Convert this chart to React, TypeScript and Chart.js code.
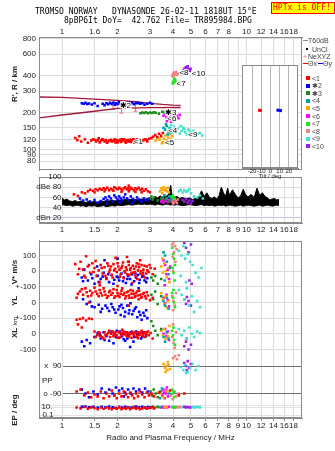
import React, { useEffect, useRef } from 'react';
import { Chart, registerables } from 'chart.js';

Chart.register(...registerables);
Chart.defaults.font.family = '"Liberation Sans", Arial, sans-serif';
Chart.defaults.font.size = 8;
Chart.defaults.color = '#222';

type P = [number, number];

// ---------- axes ----------
const FREQ_TICKS = [1, 1.5, 2, 3, 4, 5, 6, 7, 8, 9, 10, 12, 14, 16, 18];
const TOP_LABELS = ['1', '1.6', '2', '3', '4', '5', '6', '7', '8', '', '10', '12', '14', '16', '18'];
const BOTTOM_LABELS = ['1', '1.5', '2', '3', '4', '5', '6', '7', '8', '9', '10', '12', '14', '16', '18'];
const F_MIN = 0.75;
const F_MAX = 20;
const RANGE_TICKS = [80, 90, 100, 120, 150, 200, 300, 400, 600, 800];
const DB_TICKS = [20, 40, 60, 80, 100];
const DB_LABELS: [string, number][] = [['100', 100], ['dBe 80', 80], ['60', 60], ['40', 40], ['dBn 20', 20]];
const LOWER_TICKS = [100, 0, -100, -200, -300, -400, -500];
const LOWER_LABELS = ['100', '0', '+-100', '0', '+-100', '0', '-100'];
const TILT_TICKS = [-20, -10, 0, 10, 20];

// ---------- colours ----------
const C1 = '#ff0000';
const C2 = '#0000ff';
const C3 = '#1f8a1f';
const C4 = '#00a3a3';
const C5 = '#ffa500';
const C6 = '#ff00ff';
const C7 = '#22e622';
const C8 = '#f08080';
const C9 = '#3fe0d0';
const C10 = '#9b1fe8';
const MAROON = '#a3173a';
const PINK = '#ee6a8a';
const GRID = '#dcdcdc';
const FRAME = '#8a8a8a';
const TEXT = '#222';

// ---------- range panel (f MHz, R km) ----------
const rangeRed: P[] = [[1.18,124],[1.21,119],[1.24,128],[1.27,116],[1.33,121],[1.38,113],[1.44,118],[1.47,121],[1.50,120],[1.53,116],[1.56,119],[1.58,123],[1.60,114],[1.63,118],[1.65,121],[1.67,120],[1.70,116],[1.73,119],[1.75,113],[1.77,115],[1.80,118],[1.84,120],[1.85,117],[1.87,116],[1.91,118],[1.93,121],[1.95,114],[1.98,119],[2.00,114],[2.02,117],[2.06,120],[2.09,115],[2.11,121],[2.13,118],[2.17,121],[2.20,116],[2.22,113],[2.24,119],[2.28,117],[2.30,116],[2.32,120],[2.36,115],[2.38,120],[2.40,118],[2.44,121],[2.46,114],[2.48,116],[2.53,119],[2.56,121],[2.58,117],[2.64,120],[2.66,116],[2.70,111],[2.74,120],[2.76,118],[2.83,121],[2.88,119],[2.90,116],[2.97,122],[3.05,124],[3.12,127],[3.20,131],[3.28,126],[3.36,134],[3.44,129],[3.52,136]];
const rangeBlue: P[] = [[1.28,238],[1.31,236],[1.34,240],[1.37,235],[1.40,237],[1.45,233],[1.50,238],[1.56,226],[1.66,236],[1.70,230],[1.74,238],[1.78,234],[1.82,240],[1.86,236],[1.90,242],[1.93,232],[1.96,238],[2.00,234],[2.03,244],[2.07,236],[2.11,230],[2.30,240],[2.35,236],[2.40,242],[2.45,234],[2.52,238],[2.58,240],[2.65,236],[2.72,238],[2.80,232],[2.90,236],[3.00,240],[3.08,236]];
const rangeGreen3: P[] = [[2.66,197],[2.72,200],[2.78,198],[2.85,201],[2.92,197],[3.00,200],[3.08,198],[3.15,201],[3.22,199],[3.35,196],[3.50,203],[3.58,200],[3.66,205],[3.74,201],[3.82,198],[3.90,202]];
const rangeTeal4: P[] = [[3.55,150],[3.62,145],[3.70,155],[3.78,140],[3.85,148],[3.92,136],[4.00,142],[4.08,138],[3.66,160],[3.74,132]];
const rangeOrange5: P[] = [[3.22,118],[3.30,124],[3.38,120],[3.45,126],[3.52,115],[3.58,122],[3.64,130],[3.70,118],[3.76,125],[3.82,133],[3.88,121],[3.95,128],[3.48,112],[3.60,113]];
const rangeMag6: P[] = [[3.55,188],[3.62,195],[3.68,182],[3.74,200],[3.80,176],[3.86,190],[3.92,205],[3.98,185],[4.05,195],[4.12,175],[4.20,188],[4.28,180],[4.35,192],[3.70,170],[3.90,168]];
const rangeGreen7: P[] = [[3.98,350],[4.02,358],[4.06,366],[4.10,374],[4.00,345],[4.05,380],[4.12,362],[4.08,352]];
const rangeSalmon8: P[] = [[3.96,400],[4.00,415],[4.05,425],[4.10,410],[4.15,430],[4.20,405],[4.25,418],[4.02,395]];
const rangeCyan9: P[] = [[3.82,150],[3.90,158],[3.98,145],[4.05,152],[4.15,140],[4.25,148],[4.35,135],[4.45,142],[4.55,150],[4.65,138],[4.75,132],[4.85,145],[4.95,140],[5.05,136],[5.15,142],[5.30,138],[5.45,134],[5.60,136],[5.75,130],[4.40,155],[4.60,146]];
const rangePurple10: P[] = [[4.55,445],[4.62,460],[4.70,472],[4.78,466],[4.86,452],[4.92,440],[4.60,430],[4.80,478],[4.98,456]];
const oModelTrace: P[] = [[0.75,268],[1.0,266],[1.5,258],[2.0,252],[2.5,245],[3.0,238],[3.5,233],[4.0,230],[4.4,229]];
const xModelTrace: P[] = [[0.75,181],[1.0,191],[1.5,205],[2.0,216],[3.0,219],[4.4,220]];
const neBars: [number, number, number][] = [[1.89,212,228],[2.10,198,237],[2.50,205,245]];
const TRACE_LABELS: [string, number, number][] = [['<1',2.45,116],['\u27312',2.05,228],['\u27313',3.62,200],['<6',3.72,178],['<4',3.76,143],['<5',3.62,113],['<9',4.84,131],['<8',4.33,420],['<7',4.18,342],['<10',5.05,418]];

// ---------- tilt inset (deg, R km) ----------
const tiltO: P[] = [[-13.5,224],[-9.5,221]];
const tiltX: P[] = [[6.5,224],[12.5,221]];

// ---------- amplitude panel (f MHz, dB) ----------
const noise: [number, number, number][] = [[1.00,46,59],[1.03,45,55],[1.06,44,57],[1.10,45,53],[1.14,43,52],[1.18,44,54],[1.22,45,51],[1.26,43,53],[1.30,44,52],[1.35,42,50],[1.40,44,53],[1.45,43,51],[1.50,44,52],[1.56,42,50],[1.62,43,53],[1.68,44,52],[1.74,42,54],[1.80,43,53],[1.87,44,55],[1.94,43,53],[2.00,45,55],[2.10,44,54],[2.20,45,56],[2.30,46,55],[2.40,45,57],[2.50,46,56],[2.60,47,55],[2.70,46,57],[2.80,47,56],[2.90,46,58],[3.00,47,60],[3.10,46,57],[3.20,45,62],[3.30,47,59],[3.40,46,63],[3.50,45,61],[3.60,46,65],[3.70,47,62],[3.80,46,68],[3.88,45,84],[3.95,46,64],[4.05,45,60],[4.20,46,62],[4.35,45,58],[4.50,44,60],[4.70,45,57],[4.90,46,59],[5.10,45,56],[5.30,44,58],[5.50,45,60],[5.70,46,73],[5.90,44,62],[6.10,45,69],[6.30,44,60],[6.50,45,58],[6.70,43,61],[6.90,44,57],[7.10,45,63],[7.30,44,80],[7.50,45,69],[7.70,43,62],[7.90,44,78],[8.10,45,64],[8.40,44,75],[8.70,43,66],[9.00,44,59],[9.30,45,63],[9.60,43,76],[9.90,44,65],[10.2,45,61],[10.6,44,66],[11.0,43,60],[11.4,44,78],[11.8,45,64],[12.2,43,69],[12.6,44,62],[13.0,45,59],[13.4,44,55],[13.8,43,57],[14.2,44,58],[14.6,45,55],[15.0,44,56]];
const dbRed: P[] = [[1.16,66],[1.22,63],[1.28,70],[1.33,68],[1.38,72],[1.42,75],[1.47,73],[1.52,76],[1.56,74],[1.60,77],[1.64,75],[1.68,78],[1.72,76],[1.76,79],[1.80,74],[1.84,77],[1.88,75],[1.92,80],[1.96,78],[2.00,76],[2.04,79],[2.08,77],[2.12,74],[2.16,78],[2.20,80],[2.24,76],[2.28,78],[2.32,75],[2.36,79],[2.40,77],[2.45,74],[2.50,78],[2.55,76],[2.60,79],[2.66,75],[2.72,77],[2.78,73],[2.85,76],[2.92,72],[3.00,70],[1.50,70],[1.70,72],[1.90,73],[2.10,71],[2.30,72],[2.50,71],[2.70,70],[2.30,83]];
const dbBlue: P[] = [[1.25,58],[1.30,54],[1.36,56],[1.42,52],[1.50,55],[1.56,50],[1.62,53],[1.68,57],[1.72,60],[1.76,55],[1.80,62],[1.84,58],[1.88,52],[1.92,64],[1.96,60],[2.00,56],[2.04,62],[2.08,58],[2.12,54],[2.16,60],[2.20,66],[2.25,58],[2.30,55],[2.36,62],[2.42,57],[2.48,53],[2.55,60],[2.62,56],[2.70,52],[2.78,58],[2.85,54],[2.95,56],[1.75,48],[2.05,50],[2.40,49]];
const dbGreen3: P[] = [[3.00,58],[3.05,62],[3.10,56],[3.15,60],[3.30,54],[3.45,58],[3.60,55],[3.80,52]];
const dbTeal4: P[] = [[3.50,60],[3.60,64],[3.70,58],[3.80,62],[3.90,56]];
const dbOrange5: P[] = [[3.40,72],[3.45,78],[3.50,75],[3.55,80],[3.60,74],[3.65,77],[3.70,72],[3.75,79],[3.80,70],[3.50,68]];
const dbMag6: P[] = [[3.45,52],[3.50,55],[3.55,50],[3.60,56],[3.65,53],[3.70,58],[3.75,51],[3.80,55],[3.90,54]];
const dbGreen7: P[] = [[3.90,62],[3.95,60],[4.00,64],[4.05,58]];
const dbSalmon8: P[] = [[3.95,52],[4.00,55],[4.05,50],[4.10,57],[4.15,53],[4.20,49],[4.25,56],[4.00,48]];
const dbCyan9: P[] = [[4.30,72],[4.40,75],[4.50,70],[4.60,74],[4.70,71],[4.80,73],[5.00,68],[5.20,62],[5.40,60],[5.60,64],[5.80,58],[4.90,76]];
const dbPurple10: P[] = [[4.50,55],[4.60,52],[4.70,57],[4.80,50],[4.90,54],[5.00,48],[5.10,53]];

// ---------- V* (m/s) ----------
const vRed: P[] = [[1.18,45],[1.22,-20],[1.26,60],[1.30,10],[1.34,-40],[1.38,30],[1.42,-10],[1.46,50],[1.50,20],[1.54,-30],[1.58,5],[1.62,40],[1.66,-15],[1.70,25],[1.74,-50],[1.78,35],[1.82,10],[1.86,-25],[1.90,45],[1.94,15],[1.98,-5],[2.02,30],[2.06,-35],[2.10,20],[2.14,55],[2.18,0],[2.22,25],[2.26,-20],[2.30,40],[2.34,10],[2.38,-10],[2.42,35],[2.46,15],[2.50,-30],[2.54,50],[2.58,5],[2.62,25],[2.66,-15],[2.70,40],[2.76,10],[2.82,-40],[2.88,30],[2.95,-5],[3.02,20],[3.10,-20],[3.18,15],[1.95,85],[2.25,90],[1.60,-70],[2.40,-75],[1.35,95],[2.65,70],[1.80,-5],[2.05,10],[2.20,-8],[2.48,-5],[2.75,-10],[2.90,5],[1.24,15],[1.32,-30],[1.40,40],[1.48,-5],[1.52,65],[1.64,20],[1.72,-30],[1.76,50],[1.84,30],[1.88,-40],[1.92,5],[2.00,50],[2.08,-20],[2.12,35],[2.16,-45],[2.24,10],[2.28,60],[2.32,-25],[2.36,20],[2.44,-10],[2.52,30],[2.56,-50],[2.60,45],[2.68,0],[2.72,-25],[2.80,35],[2.86,-15],[2.98,40]];
const vBlue: P[] = [[1.28,-40],[1.32,10],[1.38,-60],[1.44,-20],[1.50,-80],[1.56,-30],[1.62,-50],[1.68,-10],[1.74,-45],[1.80,-70],[1.86,-25],[1.92,-55],[1.98,-35],[2.04,-60],[2.10,-15],[2.16,-40],[2.22,-75],[2.28,-30],[2.34,-50],[2.40,-20],[2.46,-65],[2.52,-40],[2.58,-25],[2.64,-55],[2.72,-35],[2.80,-60],[2.90,-45],[1.70,70],[2.00,80],[2.30,60],[1.55,30],[2.60,-110],[1.30,-65],[1.46,-45],[1.58,-70],[1.66,-35],[1.78,-20],[1.90,-80],[2.02,-40],[2.14,-65],[2.26,-50],[2.38,-85],[2.50,-15],[2.62,-75],[2.76,-30],[2.86,-70]];
const vGreen3: P[] = [[3.05,-40],[3.12,-60],[3.20,-30],[3.30,-80],[3.45,-50]];
const vTeal4: P[] = [[3.55,120],[3.62,100],[3.70,60],[3.78,-20],[3.85,20],[3.60,-60]];
const vOrange5: P[] = [[3.45,30],[3.52,-10],[3.58,50],[3.64,0],[3.70,-40],[3.76,20],[3.82,-70],[3.50,80]];
const vMag6: P[] = [[3.55,70],[3.62,40],[3.68,-20],[3.74,10],[3.80,-50],[3.86,30],[3.60,-90]];
const vGreen7: P[] = [[3.95,150],[4.00,110],[4.05,80],[4.10,40],[4.02,-10],[4.08,-60],[3.98,20]];
const vSalmon8: P[] = [[3.95,170],[4.02,185],[4.10,160],[4.18,140],[4.05,120],[3.98,90],[4.12,60],[4.00,0]];
const vCyan9: P[] = [[4.30,130],[4.45,100],[4.55,160],[4.65,80],[4.80,110],[4.95,60],[5.10,40],[5.30,-10],[5.50,-40],[5.70,20],[4.40,-30],[4.70,-70]];
const vPurple10: P[] = [[4.60,180],[4.70,150],[4.85,120],[5.00,170],[4.90,-60],[5.05,-80]];

// ---------- YL (km) ----------
const ylRed: P[] = [[1.20,30],[1.25,70],[1.30,50],[1.34,90],[1.38,40],[1.42,75],[1.46,60],[1.50,95],[1.55,55],[1.60,80],[1.65,45],[1.70,70],[1.75,30],[1.80,65],[1.85,50],[1.90,85],[1.95,40],[2.00,60],[2.05,35],[2.10,75],[2.15,50],[2.20,25],[2.25,65],[2.30,45],[2.35,80],[2.40,30],[2.45,55],[2.50,40],[2.55,70],[2.60,20],[2.65,50],[2.70,35],[2.78,60],[2.85,25],[2.92,45],[3.00,15],[3.10,30],[1.60,110],[2.00,105],[1.40,0],[2.30,-20],[1.22,55],[1.28,85],[1.36,65],[1.44,45],[1.52,70],[1.58,40],[1.62,60],[1.68,90],[1.72,50],[1.78,40],[1.82,75],[1.88,60],[1.92,30],[1.98,80],[2.02,45],[2.08,55],[2.12,90],[2.18,60],[2.22,40],[2.28,70],[2.32,30],[2.38,55],[2.42,75],[2.48,35],[2.52,60],[2.58,45],[2.62,75],[2.68,30],[2.74,55],[2.82,40],[2.88,65]];
const ylBlue: P[] = [[1.30,20],[1.36,-10],[1.42,5],[1.50,-30],[1.58,-15],[1.65,-40],[1.72,-20],[1.80,-55],[1.88,-30],[1.95,-65],[2.02,-45],[2.08,-80],[2.14,-35],[2.20,-60],[2.26,-20],[2.32,-50],[2.40,-75],[2.48,-40],[2.56,-95],[2.62,-60],[2.70,-110],[2.80,-85],[2.90,-100],[1.85,-10],[2.10,-15],[2.35,-5],[1.45,-25],[1.62,-60],[1.76,-35],[1.92,-45],[2.05,-25],[2.18,-90],[2.30,-70],[2.44,-55],[2.52,-30],[2.66,-80],[2.76,-65],[2.86,-50]];
const ylGreen3: P[] = [[3.05,50],[3.12,20],[3.20,70],[3.30,-10],[3.45,40]];
const ylTeal4: P[] = [[3.55,10],[3.62,-20],[3.70,30],[3.78,-40]];
const ylOrange5: P[] = [[3.45,60],[3.52,20],[3.58,-10],[3.64,40],[3.70,-30],[3.76,10]];
const ylMag6: P[] = [[3.55,30],[3.62,-5],[3.68,50],[3.74,15],[3.80,-25]];
const ylGreen7: P[] = [[3.95,60],[4.00,30],[4.05,0],[4.10,-30],[4.02,80]];
const ylSalmon8: P[] = [[3.95,40],[4.02,10],[4.08,-20],[4.15,60],[4.00,-50]];
const ylCyan9: P[] = [[4.30,80],[4.45,50],[4.60,20],[4.75,90],[4.90,-20],[5.05,40],[5.20,-60],[5.40,10],[5.60,-30]];
const ylPurple10: P[] = [[4.60,20],[4.70,-10],[4.85,10],[5.00,-20],[4.75,35]];

// ---------- XL (km) ----------
const xlRed: P[] = [[1.20,90],[1.25,95],[1.30,100],[1.35,85],[1.40,98],[1.45,95],[1.22,60],[1.28,40],[1.50,15],[1.55,-10],[1.60,5],[1.65,-20],[1.70,10],[1.75,-5],[1.80,20],[1.85,0],[1.90,-15],[1.95,10],[2.00,-25],[2.05,5],[2.10,-10],[2.15,15],[2.20,-5],[2.25,10],[2.30,-20],[2.35,0],[2.40,15],[2.45,-10],[2.50,5],[2.55,-15],[2.60,10],[2.65,-5],[2.70,20],[2.76,0],[2.82,-20],[2.88,10],[2.95,-10],[3.02,5],[3.10,-30],[1.68,-30],[2.12,25],[2.58,-28],[1.52,-20],[1.58,10],[1.62,-15],[1.72,-10],[1.78,5],[1.82,-20],[1.88,15],[1.92,0],[1.98,-10],[2.02,15],[2.08,-20],[2.14,0],[2.18,10],[2.24,-15],[2.28,5],[2.32,-5],[2.38,-25],[2.42,0],[2.48,10],[2.52,-20],[2.62,-10],[2.68,5],[2.74,-15],[2.80,10],[2.86,-5],[2.92,15]];
const xlBlue: P[] = [[1.28,-50],[1.32,-80],[1.36,-40],[1.42,-60],[1.50,-20],[1.56,5],[1.62,-30],[1.68,10],[1.74,-15],[1.80,-45],[1.86,15],[1.92,-5],[1.98,20],[2.04,-25],[2.10,0],[2.16,-35],[2.22,10],[2.28,-10],[2.34,-85],[2.40,5],[2.46,-20],[2.52,15],[2.60,-5],[2.68,-30],[2.76,10],[2.85,-15],[1.90,-60],[2.20,-45],[1.60,-10],[1.70,-40],[1.84,5],[1.96,-20],[2.06,15],[2.12,-15],[2.26,-30],[2.36,10],[2.44,-50],[2.56,0],[2.72,-20]];
const xlGreen3: P[] = [[3.05,80],[3.12,50],[3.20,20],[3.30,-10],[3.45,30]];
const xlTeal4: P[] = [[3.55,-20],[3.62,-50],[3.70,10],[3.78,-30]];
const xlOrange5: P[] = [[3.45,20],[3.52,-10],[3.58,30],[3.64,-30],[3.70,10],[3.76,-15],[3.82,50]];
const xlMag6: P[] = [[3.55,0],[3.62,30],[3.68,-15],[3.74,15],[3.80,-40]];
const xlGreen7: P[] = [[3.95,20],[4.00,-10],[4.05,-40],[4.10,-70],[4.02,40]];
const xlSalmon8: P[] = [[3.95,-20],[4.02,-60],[4.08,-90],[4.15,10],[4.00,60]];
const xlCyan9: P[] = [[4.30,30],[4.45,-10],[4.60,20],[4.75,-30],[4.90,40],[5.05,0],[5.20,-20],[5.40,15],[5.60,5]];
const xlPurple10: P[] = [[4.60,-80],[4.70,-50],[4.85,-100],[5.00,-70],[4.75,-30]];

// ---------- polarisation angle (deg: near +90 = x, near -90 = o) ----------
const ppRed: P[] = [[1.20,-88],[1.26,-86],[1.32,-92],[1.38,-89],[1.44,-94],[1.50,-91],[1.56,-93],[1.62,-88],[1.68,-95],[1.74,-90],[1.80,-93],[1.86,-87],[1.92,-92],[1.98,-95],[2.04,-90],[2.10,-93],[2.16,-88],[2.22,-91],[2.28,-94],[2.34,-89],[2.40,-92],[2.46,-95],[2.52,-90],[2.58,-93],[2.64,-88],[2.72,-91],[2.80,-94],[2.88,-89],[2.96,-92],[3.05,-90],[3.15,-93],[3.35,-89],[3.85,-87],[4.30,-92],[4.60,-90]];
const ppBlue: P[] = [[1.28,-86],[1.34,-90],[1.40,-94],[1.48,-88],[1.56,-91],[1.64,-85],[1.72,-89],[1.80,-86],[1.88,-90],[1.96,-84],[2.04,-87],[2.12,-85],[2.20,-89],[2.28,-86],[2.36,-90],[2.44,-85],[2.52,-88],[2.62,-86],[2.72,-89],[2.82,-85],[2.92,-88],[1.92,-92],[2.16,-93]];
const ppGreen3: P[] = [[3.02,-88],[3.08,-92],[3.14,-86],[3.22,-90],[3.30,-94],[3.40,-88]];
const ppTeal4: P[] = [[3.40,-95],[3.48,-85],[3.80,-90]];
const ppOrange5: P[] = [[3.42,-90],[3.55,-94],[3.72,-88],[3.55,92],[3.62,88],[3.68,90],[3.72,86],[3.78,91],[3.85,87],[3.65,84],[3.75,94]];
const ppMag6: P[] = [[3.45,-88],[3.50,-92],[3.55,-86],[3.60,-95],[3.65,-90],[3.70,-84],[3.75,-93],[3.58,-89],[3.68,-87]];
const ppGreen7: P[] = [[3.95,-86],[4.00,-90],[4.05,-94],[4.02,-88]];
const ppSalmon8: P[] = [[3.90,-92],[3.98,-96],[4.08,-88],[4.15,-93],[4.25,-90],[4.00,98],[4.10,100],[4.20,97],[4.30,101]];
const ppCyan9: P[] = [[4.40,89],[4.55,86],[4.65,91],[4.80,84],[4.95,88],[5.10,92],[5.30,86],[5.50,90],[4.70,83]];
const ppPurple10: P[] = [[4.60,93],[4.70,90],[4.80,95],[4.90,88],[5.00,92],[4.75,86]];

// ---------- EP (deg, log) ----------
const epRed: P[] = [[1.20,8],[1.26,5],[1.32,12],[1.38,4],[1.44,9],[1.50,6],[1.56,3],[1.62,8],[1.68,4],[1.74,10],[1.80,5],[1.86,3],[1.92,7],[1.98,4],[2.04,9],[2.10,3],[2.16,6],[2.22,4],[2.28,8],[2.34,3],[2.40,6],[2.46,9],[2.52,4],[2.58,7],[2.64,3],[2.72,5],[2.80,8],[2.88,4],[2.96,6],[3.05,9],[3.15,5]];
const epBlue: P[] = [[1.28,12],[1.34,15],[1.40,10],[1.48,13],[1.56,8],[1.64,12],[1.72,9],[1.80,14],[1.88,10],[1.96,6],[2.04,12],[2.12,8],[2.20,13],[2.28,10],[2.36,7],[2.44,11],[2.52,14],[2.62,9],[2.72,12],[2.82,8],[2.92,11],[3.00,9]];
const epGreen3: P[] = [[3.02,10],[3.10,14],[3.20,8],[3.30,12]];
const epTeal4: P[] = [[3.40,10]];
const epOrange5: P[] = [[3.60,10],[3.70,8]];
const epMag6: P[] = [[3.45,9],[3.52,12],[3.58,7],[3.65,11],[3.72,8],[3.80,13]];
const epGreen7: P[] = [[4.00,12],[4.10,9]];
const epSalmon8: P[] = [[3.95,10],[4.05,7],[4.15,12],[4.25,9],[4.35,11]];
const epCyan9: P[] = [[5.10,11],[5.20,8],[5.30,10],[5.45,12],[5.60,9],[4.45,10]];
const epPurple10: P[] = [[4.60,12],[4.70,9],[4.80,11],[4.90,8],[5.00,10]];

const CLASS_LEGEND: [string, string][] = [['<1', C1], ['\u27312', C2], ['\u27313', C3], ['<4', C4], ['<5', C5], ['<6', C6], ['<7', C7], ['<8', C8], ['<9', C9], ['<10', C10]];

// ---------- lower panel layout (virtual units) ----------
const YL0 = -200;
const XL0 = -400;
const XA0 = -606;
const OA0 = -781;
const EP10 = -869;
const LOWER_MIN = -938;
const LOWER_MAX = 194;
const vMap = (v: number) => v;
const ylMap = (v: number) => YL0 + v;
const xlMap = (v: number) => XL0 + v;
const angMap = (a: number) => (a > 0 ? XA0 + (a - 90) * 6.25 : OA0 + (a + 90) * 6.25);
const epMap = (e: number) => EP10 + (Math.log10(e) - 1) * 25;

const COLORS = [C1, C2, C3, C4, C5, C6, C7, C8, C9, C10];
const RANGE_SETS = [rangeRed, rangeBlue, rangeGreen3, rangeTeal4, rangeOrange5, rangeMag6, rangeGreen7, rangeSalmon8, rangeCyan9, rangePurple10];
const DB_SETS = [dbRed, dbBlue, dbGreen3, dbTeal4, dbOrange5, dbMag6, dbGreen7, dbSalmon8, dbCyan9, dbPurple10];
const V_SETS = [vRed, vBlue, vGreen3, vTeal4, vOrange5, vMag6, vGreen7, vSalmon8, vCyan9, vPurple10];
const YL_SETS = [ylRed, ylBlue, ylGreen3, ylTeal4, ylOrange5, ylMag6, ylGreen7, ylSalmon8, ylCyan9, ylPurple10];
const XL_SETS = [xlRed, xlBlue, xlGreen3, xlTeal4, xlOrange5, xlMag6, xlGreen7, xlSalmon8, xlCyan9, xlPurple10];
const PP_SETS = [ppRed, ppBlue, ppGreen3, ppTeal4, ppOrange5, ppMag6, ppGreen7, ppSalmon8, ppCyan9, ppPurple10];
const EP_SETS = [epRed, epBlue, epGreen3, epTeal4, epOrange5, epMag6, epGreen7, epSalmon8, epCyan9, epPurple10];

function pointDs(color: string, data: P[], map?: (v: number) => number) {
  return {
    data: data.map(([x, y]) => ({ x, y: map ? map(y) : y })),
    showLine: false,
    pointStyle: 'rect',
    pointRadius: 1.8,
    pointBorderWidth: 0,
    pointBackgroundColor: color,
    borderColor: color,
    backgroundColor: color,
  };
}

function lineDs(color: string, data: P[], width: number, extra: any = {}) {
  return {
    data: data.map(([x, y]) => ({ x, y })),
    showLine: true,
    borderColor: color,
    backgroundColor: color,
    borderWidth: width,
    pointRadius: 0,
    fill: false,
    tension: 0,
    ...extra,
  };
}

function freqAxis(position: string, labels: string[], height: number, padding: number, tickLength: number, title?: any) {
  return {
    type: 'logarithmic',
    position,
    min: F_MIN,
    max: F_MAX,
    afterBuildTicks: (s: any) => { s.ticks = FREQ_TICKS.map((value) => ({ value })); },
    afterFit: (s: any) => { s.height = height; },
    ticks: { autoSkip: false, maxRotation: 0, minRotation: 0, padding, color: TEXT, font: { size: 8 }, callback: (_v: any, i: number) => labels[i] },
    grid: { color: GRID, drawTicks: tickLength > 0, tickLength, tickColor: FRAME },
    border: { color: FRAME },
    title: title || { display: false },
  };
}

const framePlugin = {
  id: 'frame',
  afterDraw(chart: any) {
    const { ctx, chartArea: a } = chart;
    ctx.save();
    ctx.strokeStyle = FRAME;
    ctx.lineWidth = 1;
    ctx.strokeRect(Math.round(a.left) + 0.5, Math.round(a.top) + 0.5, Math.round(a.right - a.left) - 1, Math.round(a.bottom - a.top) - 1);
    ctx.restore();
  },
};

const baseOptions = (padding: any) => ({
  responsive: false,
  animation: false,
  events: [],
  layout: { padding },
  plugins: { legend: { display: false }, tooltip: { enabled: false } },
});

function makeRange() {
  const traceLabels = {
    id: 'traceLabels',
    afterDatasetsDraw(chart: any) {
      const { ctx, scales } = chart;
      ctx.save();
      ctx.font = '8px "Liberation Sans", Arial, sans-serif';
      ctx.textAlign = 'left';
      ctx.textBaseline = 'middle';
      ctx.lineWidth = 2;
      ctx.strokeStyle = '#fff';
      ctx.fillStyle = '#000';
      TRACE_LABELS.forEach(([t, f, r]) => {
        const x = scales.x.getPixelForValue(f);
        const y = scales.y.getPixelForValue(r);
        ctx.strokeText(t, x, y);
        ctx.fillText(t, x, y);
      });
      ctx.restore();
    },
  };
  return {
    type: 'line',
    data: {
      datasets: [
        ...RANGE_SETS.map((d, i) => pointDs(COLORS[i], d)),
        lineDs(MAROON, oModelTrace, 1.3),
        lineDs(MAROON, xModelTrace, 1.3),
        ...neBars.map(([f, lo, hi]) => lineDs(PINK, [[f, lo], [f, hi]], 1, { pointStyle: 'line', pointRadius: 2, pointBorderColor: PINK, pointBorderWidth: 1 })),
      ],
    },
    options: {
      ...baseOptions({ top: 0, right: 33, bottom: 1, left: 0 }),
      scales: {
        x: freqAxis('top', TOP_LABELS, 37, 0, 0),
        y: {
          type: 'logarithmic',
          min: 67.5,
          max: 830,
          afterBuildTicks: (s: any) => { s.ticks = RANGE_TICKS.map((value) => ({ value })); },
          afterFit: (s: any) => { s.width = 39; },
          ticks: { autoSkip: false, padding: 3, color: TEXT, font: { size: 8 }, callback: (_v: any, i: number) => String(RANGE_TICKS[i]) },
          grid: { color: GRID, drawTicks: false },
          border: { color: FRAME },
        },
      },
    },
    plugins: [framePlugin, traceLabels],
  };
}

function makeDb() {
  const dbLabels = {
    id: 'dbLabels',
    afterDraw(chart: any) {
      const { ctx, scales } = chart;
      const xr = scales.x.getPixelForValue(1) - 0.5;
      ctx.save();
      ctx.font = '8px "Liberation Sans", Arial, sans-serif';
      ctx.textAlign = 'right';
      ctx.textBaseline = 'middle';
      ctx.fillStyle = TEXT;
      DB_LABELS.forEach(([t, v]) => ctx.fillText(t, xr, scales.y.getPixelForValue(v)));
      ctx.restore();
    },
  };
  return {
    type: 'line',
    data: {
      datasets: [
        ...DB_SETS.map((d, i) => pointDs(COLORS[i], d)),
        lineDs('#000', noise.map(([f, lo]) => [f, lo] as P), 1),
        lineDs('#000', noise.map(([f, , hi]) => [f, hi] as P), 1, { fill: '-1', backgroundColor: '#000' }),
      ],
    },
    options: {
      ...baseOptions({ top: 5, right: 33, bottom: 0, left: 0 }),
      scales: {
        x: freqAxis('bottom', BOTTOM_LABELS, 13, 2, 0),
        y: {
          type: 'linear',
          min: 10,
          max: 100,
          afterBuildTicks: (s: any) => { s.ticks = DB_TICKS.map((value) => ({ value })); },
          afterFit: (s: any) => { s.width = 39; },
          ticks: { display: false },
          grid: { drawTicks: false, color: (c: any) => (c.tick && c.tick.value === 20 ? '#c4c4f0' : GRID) },
          border: { color: FRAME },
        },
      },
    },
    plugins: [framePlugin, dbLabels],
  };
}

function makeLower() {
  const lowerDecor = {
    id: 'lowerDecor',
    beforeDatasetsDraw(chart: any) {
      const { ctx, scales, chartArea: a } = chart;
      const y = scales.y;
      ctx.save();
      ctx.lineWidth = 1;
      ctx.strokeStyle = '#e2e2e2';
      [EP10 + 12, EP10, EP10 - 50].forEach((v) => {
        const py = Math.round(y.getPixelForValue(v)) + 0.5;
        ctx.beginPath(); ctx.moveTo(a.left, py); ctx.lineTo(a.right, py); ctx.stroke();
      });
      ctx.strokeStyle = '#6e6e6e';
      const x0 = scales.x.getPixelForValue(1) + 1;
      [XA0, OA0].forEach((v) => {
        const py = Math.round(y.getPixelForValue(v)) + 0.5;
        ctx.beginPath(); ctx.moveTo(x0, py); ctx.lineTo(a.right, py); ctx.stroke();
      });
      ctx.restore();
    },
    afterDraw(chart: any) {
      const { ctx, scales, chartArea: a } = chart;
      const y = scales.y;
      const xr = scales.x.getPixelForValue(1) - 0.5;
      ctx.save();
      ctx.font = '8px "Liberation Sans", Arial, sans-serif';
      ctx.textBaseline = 'middle';
      ctx.fillStyle = TEXT;
      ctx.textAlign = 'right';
      ctx.fillText('x  90', xr, y.getPixelForValue(XA0));
      ctx.fillText('o -90', xr, y.getPixelForValue(OA0));
      ctx.fillText('10.', xr - 9, y.getPixelForValue(EP10));
      ctx.fillText('0.1', xr - 8, y.getPixelForValue(EP10 - 50));
      ctx.textAlign = 'left';
      ctx.fillText('PP', a.left + 3, y.getPixelForValue(-700));
      ctx.restore();
    },
  };
  const datasets: any[] = [];
  COLORS.forEach((c, i) => {
    datasets.push(pointDs(c, V_SETS[i], vMap));
    datasets.push(pointDs(c, YL_SETS[i], ylMap));
    datasets.push(pointDs(c, XL_SETS[i], xlMap));
    datasets.push(pointDs(c, PP_SETS[i], angMap));
    datasets.push(pointDs(c, EP_SETS[i], epMap));
  });
  return {
    type: 'line',
    data: { datasets },
    options: {
      ...baseOptions({ top: 4, right: 33, bottom: 0, left: 0 }),
      scales: {
        x: freqAxis('bottom', BOTTOM_LABELS, 33, 0, 3, {
          display: true,
          text: 'Radio and Plasma Frequency / MHz',
          color: TEXT,
          font: { size: 8 },
          padding: { top: 0, bottom: 8 },
        }),
        y: {
          type: 'linear',
          min: LOWER_MIN,
          max: LOWER_MAX,
          afterBuildTicks: (s: any) => { s.ticks = LOWER_TICKS.map((value) => ({ value })); },
          afterFit: (s: any) => { s.width = 39; },
          ticks: { autoSkip: false, padding: 3, color: TEXT, font: { size: 8 }, callback: (_v: any, i: number) => LOWER_LABELS[i] },
          grid: { color: GRID, drawTicks: false },
          border: { color: FRAME },
        },
      },
    },
    plugins: [framePlugin, lowerDecor],
  };
}

function makeTilt() {
  const whiteBg = {
    id: 'whiteBg',
    beforeDraw(chart: any) {
      const { ctx, chartArea: a } = chart;
      ctx.save();
      ctx.fillStyle = '#fff';
      ctx.fillRect(a.left, a.top, a.right - a.left, a.bottom - a.top);
      ctx.restore();
    },
  };
  return {
    type: 'line',
    data: {
      datasets: [lineDs(C1, tiltO, 3), lineDs(C2, tiltX, 3)],
    },
    options: {
      ...baseOptions({ top: 5, right: 9, bottom: 0, left: 10 }),
      scales: {
        x: {
          type: 'linear',
          min: -31,
          max: 30,
          afterBuildTicks: (s: any) => { s.ticks = TILT_TICKS.map((value) => ({ value })); },
          afterFit: (s: any) => { s.height = 17; },
          ticks: { autoSkip: false, maxRotation: 0, padding: 0, color: TEXT, font: { size: 6 }, callback: (v: any) => String(v) },
          grid: { color: '#b4b4b4', drawTicks: false },
          border: { color: FRAME },
          title: { display: true, text: 'Tilt / deg', color: TEXT, font: { size: 6 }, padding: { top: 0, bottom: 5 } },
        },
        y: { type: 'logarithmic', min: 79, max: 503, display: false },
      },
    },
    plugins: [whiteBg, framePlugin],
  };
}

function ChartCanvas({ left, top, width, height, make }: { left: number; top: number; width: number; height: number; make: () => any }) {
  const ref = useRef<HTMLCanvasElement>(null);
  useEffect(() => {
    const chart = new Chart(ref.current as HTMLCanvasElement, make());
    return () => chart.destroy();
  }, []);
  return <canvas ref={ref} width={width} height={height} style={{ position: 'absolute', left, top, width, height }} />;
}

const sans = '"Liberation Sans", Arial, sans-serif';
const mono = '"DejaVu Sans Mono", "Liberation Mono", monospace';

function VLabel({ x, y, text, size = 8, bold = true }: { x: number; y: number; text: string; size?: number; bold?: boolean }) {
  return (
    <div style={{ position: 'absolute', left: x, top: y, transform: 'translate(-50%, -50%) rotate(-90deg)', whiteSpace: 'nowrap', font: `${bold ? 'bold ' : ''}${size}px ${sans}`, color: '#222', lineHeight: `${size}px` }}>
      {text}
    </div>
  );
}

function Txt({ x, y, text, color = '#444', size = 7, family = sans }: { x: number; y: number; text: string; color?: string; size?: number; family?: string }) {
  return (
    <div style={{ position: 'absolute', left: x, top: y - size / 2, whiteSpace: 'pre', font: `${size}px ${family}`, lineHeight: `${size}px`, color }}>{text}</div>
  );
}

export default function App() {
  return (
    <div style={{ position: 'absolute', left: 0, top: 0, width: 335, height: 451, background: '#fff', overflow: 'hidden' }}>
      <ChartCanvas left={0} top={0} width={335} height={178} make={makeRange} />
      <ChartCanvas left={0} top={172} width={335} height={64} make={makeDb} />
      <ChartCanvas left={0} top={233} width={335} height={218} make={makeLower} />
      <ChartCanvas left={232} top={60} width={75} height={125} make={makeTilt} />

      <Txt x={35} y={12} size={8} text="TROMSO NORWAY   DYNASONDE 26-02-11 1818UT 15°E" color="#000" family={mono} />
      <Txt x={64} y={21} size={8} text="8pBP6It DoY=  42.762 File= TR895984.BPG" color="#000" family={mono} />
      <div style={{ position: 'absolute', left: 271, top: 2, width: 62, height: 10, background: '#ffff00', border: '1px solid #ff0000', boxSizing: 'content-box' }} />
      <Txt x={273} y={7.5} size={8} text="HPTx is OFF!" color="#ff0000" family={mono} />

      <VLabel x={15} y={84} text="R', R / km" />
      <VLabel x={15} y={272} text="V* m/s" />
      <VLabel x={15} y={301} text="YL" />
      <VLabel x={15} y={321} text="km" size={6} bold={false} />
      <VLabel x={15} y={333} text="XL" />
      <VLabel x={15} y={410} text="EP / deg" />

      <div style={{ position: 'absolute', left: 303, top: 40, width: 5, height: 1, background: '#888' }} />
      <Txt x={308} y={40} text="T60dB" />
      <div style={{ position: 'absolute', left: 306, top: 48, width: 2, height: 2, background: '#000' }} />
      <Txt x={312} y={49} text="UnCl" />
      <Txt x={303} y={56} text="+" color={PINK} />
      <Txt x={308} y={56} text="NeXYZ" />
      <div style={{ position: 'absolute', left: 303, top: 63, width: 5, height: 1, background: C1 }} />
      <Txt x={308} y={63} text="Θx" />
      <div style={{ position: 'absolute', left: 318, top: 63, width: 5, height: 1, background: C2 }} />
      <Txt x={323} y={63} text="Θy" />
      {CLASS_LEGEND.map(([label, color], i) => (
        <React.Fragment key={label}>
          <div style={{ position: 'absolute', left: 306, top: 76 + i * 7.6, width: 4, height: 4, background: color }} />
          <Txt x={312} y={78 + i * 7.6} text={label} />
        </React.Fragment>
      ))}
    </div>
  );
}
